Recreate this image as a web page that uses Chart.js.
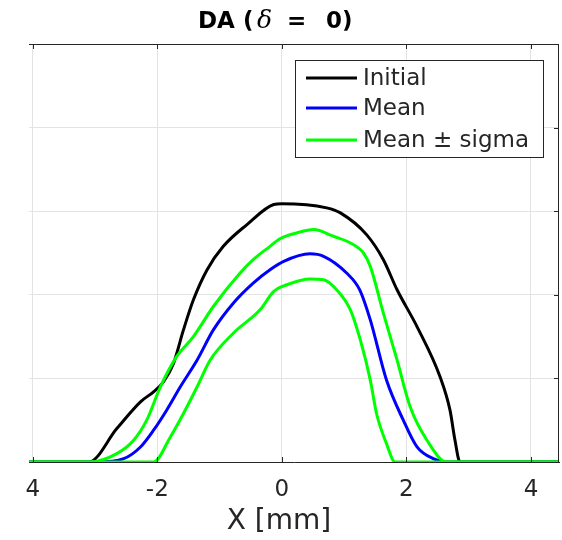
<!DOCTYPE html>
<html>
<head>
<meta charset="utf-8">
<script src="https://cdn.jsdelivr.net/npm/chart.js@4.4.0/dist/chart.umd.min.js"></script>
<style>
  html, body { margin: 0; padding: 0; background: #fff; }
  #wrap { width: 562px; height: 540px; }
</style>
</head>
<body>
<div id="wrap"><canvas id="grafico_da"></canvas></div>
<script>
// x positions [mm] and DA values
var initialX = [-4.06, -3.10, -2.65, -2.27, -2.06, -1.90, -1.74, -1.58, -1.42, -1.20, -0.94, -0.56, -0.13, 0, 0.72, 0.94, 1.36, 1.63, 1.85, 2.17, 2.54, 2.70, 2.78, 2.86, 4.45];
var initialY = [0, 0, 0.40, 0.72, 0.84, 0.96, 1.18, 1.58, 1.94, 2.30, 2.58, 2.84, 3.08, 3.09, 3.04, 2.98, 2.72, 2.42, 2.06, 1.62, 1.02, 0.62, 0.26, 0, 0];

var meanX = [-4.06, -2.97, -2.54, -2.27, -2.06, -1.85, -1.63, -1.36, -1.10, -0.78, -0.46, -0.19, 0.03, 0.45, 0.67, 1.04, 1.25, 1.42, 1.68, 1.95, 2.17, 2.43, 2.65, 4.45];
var meanY = [0, 0, 0.04, 0.18, 0.38, 0.62, 0.90, 1.22, 1.58, 1.90, 2.14, 2.30, 2.40, 2.49, 2.46, 2.26, 2.06, 1.70, 0.98, 0.50, 0.18, 0.04, 0, 0];

var upperX = [-4.06, -3.08, -2.65, -2.38, -2.17, -1.95, -1.69, -1.42, -1.10, -0.67, -0.46, -0.19, -0.03, 0.24, 0.51, 0.83, 1.10, 1.31, 1.42, 1.63, 1.85, 2.06, 2.33, 2.65, 4.45];
var upperY = [0, 0, 0.10, 0.26, 0.50, 0.90, 1.26, 1.50, 1.86, 2.26, 2.42, 2.58, 2.67, 2.74, 2.78, 2.70, 2.62, 2.50, 2.34, 1.78, 1.22, 0.66, 0.26, 0, 0];

var lowerX = [-4.06, -2.06, -1.79, -1.58, -1.36, -1.15, -0.78, -0.35, -0.13, 0.08, 0.45, 0.67, 0.88, 1.10, 1.26, 1.42, 1.52, 1.68, 1.82, 4.45];
var lowerY = [0, 0, 0.30, 0.58, 0.90, 1.22, 1.54, 1.82, 2.04, 2.12, 2.19, 2.18, 2.06, 1.82, 1.46, 0.98, 0.58, 0.22, 0, 0];

var xTicks = [-4, -2, 0, 2, 4];
var xTickLabels = ['4', '-2', '0', '2', '4'];
var yTicks = [0, 1, 2, 3, 4, 5];

function pts(xs, ys) {
  return xs.map(function (x, i) { return { x: x, y: ys[i] }; });
}

var axisColor = '#262626';
var gridColor = '#e3e3e3';

// MATLAB style box, inward ticks, title, axis label and legend
var matlabBox = {
  id: 'matlabBox',
  afterDraw: function (chart) {
    var c = chart.ctx, a = chart.chartArea;
    var xs = chart.scales.x, ys = chart.scales.y;
    c.save();
    c.strokeStyle = axisColor;
    c.lineWidth = 1;
    c.beginPath();
    c.moveTo(a.left, a.top + 0.5); c.lineTo(a.right, a.top + 0.5);
    c.moveTo(a.right - 0.5, a.top); c.lineTo(a.right - 0.5, a.bottom);
    xTicks.forEach(function (v) {
      var px = Math.round(xs.getPixelForValue(v)) + 0.5;
      c.moveTo(px, a.bottom); c.lineTo(px, a.bottom - 5);
      c.moveTo(px, a.top); c.lineTo(px, a.top + 5);
    });
    yTicks.forEach(function (v) {
      var py = Math.round(ys.getPixelForValue(v)) + 0.5;
      c.moveTo(a.right, py); c.lineTo(a.right - 5, py);
    });
    c.stroke();

    // title
    c.fillStyle = '#000';
    c.textBaseline = 'alphabetic';
    c.textAlign = 'left';
    c.font = 'bold 23px "DejaVu Sans"';
    c.fillText('DA (', 198, 28);
    c.font = 'italic 25px "DejaVu Serif"';
    c.fillText('\u03b4', 257, 28);
    c.font = 'bold 23px "DejaVu Sans"';
    c.fillText('=', 287, 28);
    c.fillText('0)', 326, 28);

    // x axis label
    c.fillStyle = axisColor;
    c.textAlign = 'center';
    c.font = '28px "DejaVu Sans"';
    c.fillText('X [mm]', 279, 529);

    // legend
    var lx = 295.5, ly = 60.5, lw = 248, lh = 97;
    c.textAlign = 'left';
    c.fillStyle = '#fff';
    c.fillRect(lx, ly, lw, lh);
    c.strokeStyle = axisColor;
    c.strokeRect(lx, ly, lw, lh);
    var items = [chart.data.datasets[0], chart.data.datasets[1], chart.data.datasets[2]];
    var rows = [78, 108, 140];
    c.font = '23px "DejaVu Sans"';
    c.textBaseline = 'middle';
    items.forEach(function (d, i) {
      c.strokeStyle = d.borderColor;
      c.lineWidth = 3;
      c.beginPath();
      c.moveTo(306, rows[i]); c.lineTo(357, rows[i]);
      c.stroke();
      c.fillStyle = axisColor;
      c.fillText(d.label, 363, rows[i] + 1);
    });
    c.restore();
  }
};

var data = {
  datasets: [{
    label: 'Initial',
    data: pts(initialX, initialY),
    borderColor: '#000000',
    order: 4
  }, {
    label: 'Mean',
    data: pts(meanX, meanY),
    borderColor: '#0000ff',
    order: 3
  }, {
    label: 'Mean \u00b1 sigma',
    data: pts(upperX, upperY),
    borderColor: '#00ff00',
    order: 2
  }, {
    label: 'Mean - sigma',
    data: pts(lowerX, lowerY),
    borderColor: '#00ff00',
    order: 1
  }]
};

var options = {
  responsive: true,
  maintainAspectRatio: false,
  animation: false,
  layout: { padding: { left: 29, right: 3, top: 44, bottom: 0 } },
  elements: {
    line: { borderWidth: 3, cubicInterpolationMode: 'monotone', fill: false },
    point: { radius: 0 }
  },
  plugins: {
    legend: { display: false },
    title: { display: false },
    tooltip: { enabled: false }
  },
  scales: {
    x: {
      type: 'linear',
      min: -4.06,
      max: 4.45,
      afterBuildTicks: function (s) {
        s.ticks = xTicks.map(function (v) { return { value: v }; });
      },
      afterFit: function (s) { s.height = 78; },
      grid: { color: gridColor, drawTicks: false },
      border: { display: true, color: axisColor, width: 1 },
      ticks: {
        color: axisColor,
        padding: 14,
        maxRotation: 0,
        font: { family: 'DejaVu Sans', size: 23 },
        callback: function (v) { return xTickLabels[xTicks.indexOf(v)]; }
      },
      title: { display: false }
    },
    y: {
      type: 'linear',
      min: 0,
      max: 5,
      afterBuildTicks: function (s) {
        s.ticks = yTicks.map(function (v) { return { value: v }; });
      },
      afterFit: function (s) { s.width = 0; },
      grid: { color: gridColor, drawTicks: false },
      border: { display: false },
      ticks: { display: false }
    }
  }
};

var ctx = document.getElementById('grafico_da').getContext('2d');
var daChart = new Chart(ctx, {
  type: 'line',
  data: data,
  options: options,
  plugins: [matlabBox]
});
</script>
</body>
</html>
